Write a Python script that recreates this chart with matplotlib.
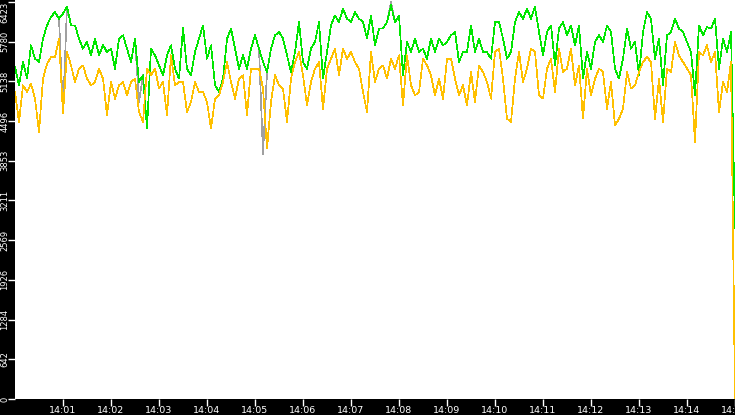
import matplotlib
matplotlib.use("Agg")
import matplotlib.pyplot as plt
from matplotlib import font_manager
import numpy as np

# ---- data (one sample every 5 s from 14:00:00) ----
step_seconds = 5
green = [
    5371, 5075, 5452, 5183, 5722, 5506, 5452, 5830, 6045, 6180, 6261, 6153, 6234, 6350, 6045,
    6045, 5830, 5668, 5776, 5560, 5830, 5560, 5722, 5614, 5668, 5344, 5830, 5884, 5668, 5452,
    5830, 5129, 5237, 4374, 5668, 5560, 5398, 5237, 5560, 5722, 5344, 5183, 6000, 5344, 5237,
    5614, 5830, 6045, 5506, 5722, 5075, 4967, 5183, 5830, 5992, 5668, 5344, 5560, 5344, 5668,
    5884, 5668, 5452, 5290, 5668, 5884, 5938, 5830, 5560, 5290, 5614, 6099, 5452, 5344, 5668,
    5776, 6099, 5183, 5614, 6045, 6207, 6099, 6315, 6153, 6099, 6261, 6153, 6099, 5830, 6207,
    5722, 5992, 5992, 6099, 6369, 6099, 6207, 5237, 5776, 5614, 5830, 5614, 5668, 5506, 5830,
    5614, 5830, 5722, 5776, 5884, 5938, 5452, 5614, 5614, 6045, 5614, 5830, 5614, 5614, 5506,
    6099, 6099, 5830, 5506, 5614, 6099, 6261, 6153, 6315, 6153, 6342, 5938, 5560, 5938, 6045,
    5398, 5992, 6099, 5884, 6045, 5722, 6045, 5183, 5614, 5344, 5776, 5884, 5776, 6045, 5938,
    5344, 5183, 5506, 5992, 5668, 5776, 5237, 5938, 6261, 6153, 5506, 5830, 5075, 5884, 5938,
    6153, 5992, 5938, 5776, 5614, 4913, 6045, 5884, 6018, 5992, 6153, 5344, 5830, 5614, 5938,
    2767,
]
orange = [
    4967, 4480, 5075, 4967, 5102, 4859, 4320, 5183, 5425, 5533, 5533, 5830, 4616, 5614, 5398,
    5129, 5344, 5398, 5183, 5075, 5129, 5344, 5183, 4590, 5129, 4859, 5075, 5129, 4913, 5129,
    5183, 4643, 4482, 5344, 5237, 5344, 5021, 5129, 4589, 5560, 5075, 5129, 5129, 4643, 4805,
    5129, 4967, 4967, 4805, 4374, 4859, 4913, 5129, 5452, 5129, 4859, 5183, 5237, 4589, 5344,
    5344, 5344, 5021, 4050, 4805, 5237, 5075, 5021, 4482, 5183, 5452, 5614, 5237, 4751, 5129,
    5344, 5452, 4697, 5344, 5506, 5668, 5237, 5668, 5506, 5614, 5452, 5344, 4967, 4643, 5614,
    5129, 5344, 5398, 5183, 5506, 5344, 5560, 4751, 5560, 5075, 4913, 4967, 5506, 5398, 5237,
    4913, 5183, 4859, 5506, 5506, 5183, 4913, 5075, 4751, 5290, 4805, 5398, 5290, 5129, 4859,
    5614, 5668, 5183, 4535, 4482, 5183, 5614, 5129, 5344, 5668, 5614, 4913, 4859, 5344, 5506,
    4967, 5668, 5290, 5344, 5668, 5075, 5398, 4535, 5344, 4913, 5183, 5344, 5290, 4697, 5129,
    4428, 4535, 4697, 5290, 5021, 5075, 5290, 5452, 5533, 5452, 4535, 5183, 4482, 5344, 5290,
    5776, 5560, 5452, 5344, 5237, 4158, 5614, 5560, 5722, 5452, 5614, 4643, 5129, 4967, 5452,
    0,
]
gray = [
    5371, 5075, 5452, 5183, 5722, 5506, 5452, 5830, 6045, 6180, 6261, 6153, 4643, 6350, 6045,
    6045, 5830, 5668, 5776, 5560, 5830, 5560, 5722, 5614, 5668, 5344, 5830, 5884, 5668, 5452,
    5830, 4805, 5237, 4374, 5668, 5560, 5398, 5237, 5560, 5722, 5344, 5183, 6000, 5344, 5237,
    5614, 5830, 6045, 5506, 5722, 5075, 4967, 5183, 5830, 5992, 5668, 5344, 5560, 5344, 5668,
    5884, 5668, 3964, 5290, 5668, 5884, 5938, 5830, 5560, 5290, 5614, 6099, 5452, 5344, 5668,
    5776, 6099, 5183, 5614, 6045, 6207, 6099, 6315, 6153, 6099, 6261, 6153, 6099, 5830, 6207,
    5722, 5992, 5992, 6099, 6423, 6099, 6207, 5237, 5776, 5614, 5830, 5614, 5668, 5506, 5830,
    5614, 5830, 5722, 5776, 5884, 5938, 5452, 5614, 5614, 6045, 5614, 5830, 5614, 5614, 5506,
    6099, 6099, 5830, 5506, 5614, 6099, 6261, 6153, 6315, 6153, 6342, 5938, 5560, 5938, 6045,
    5398, 5992, 6099, 5884, 6045, 5722, 6045, 5183, 5614, 5344, 5776, 5884, 5776, 6045, 5938,
    5344, 5183, 5506, 5992, 5668, 5776, 5237, 5938, 6261, 6153, 5506, 5830, 5075, 5884, 5938,
    6153, 5992, 5938, 5776, 5614, 4913, 6045, 5884, 6018, 5992, 6153, 5344, 5830, 5614, 5938,
    2767,
]
x_tick_labels = ["14:01", "14:02", "14:03", "14:04", "14:05", "14:06", "14:07", "14:08",
                 "14:09", "14:10", "14:11", "14:12", "14:13", "14:14", "14:15"]
y_max = 6423
y_tick_labels = ["0", "642", "1284", "1926", "2569", "3211", "3853", "4496", "5138", "5780", "6423"]

# narrow font for the rotated y labels if available
try:
    font_manager.findfont("Liberation Sans Narrow", fallback_to_default=False)
    y_family, y_size = "Liberation Sans Narrow", 6.8
except Exception:
    y_family, y_size = "DejaVu Sans", 6.0

# ---- figure ----
W, H = 735, 415
fig = plt.figure(figsize=(W / 100, H / 100), dpi=100, facecolor="black")
ax = fig.add_axes([15 / W, 16 / H, 720 / W, 399 / H])
ax.set_facecolor("white")
for s in ax.spines.values():
    s.set_visible(False)

t = np.arange(len(green)) * step_seconds

ax.plot(t, gray, color="#a0a0a0", lw=0.5, antialiased=False, zorder=2)
ax.plot(t, green, color="#00e600", lw=0.5, antialiased=False, zorder=3)
ax.plot(t, orange, color="#ffc000", lw=0.5, antialiased=False, zorder=4)

total_seconds = (len(green) - 1) * step_seconds
ax.set_xlim(0, total_seconds)
ax.set_ylim(0, y_max * 399 / 397)

xt = np.arange(1, len(x_tick_labels) + 1) * 60
ax.set_xticks(xt)
ax.set_xticklabels(x_tick_labels, fontsize=6.8, family="DejaVu Sans")
yt = np.arange(len(y_tick_labels)) * y_max / 10
ax.set_yticks(yt)
ax.set_yticklabels(y_tick_labels, rotation=90, va="center", fontsize=y_size, family=y_family)
ax.get_yticklabels()[-1].set_va("top")

ax.tick_params(axis="both", direction="out", length=5, width=1, color="white",
               labelcolor="white")
ax.tick_params(axis="y", pad=-1)
ax.tick_params(axis="x", pad=0)

fig.savefig("out.png", dpi=100, facecolor="black")
